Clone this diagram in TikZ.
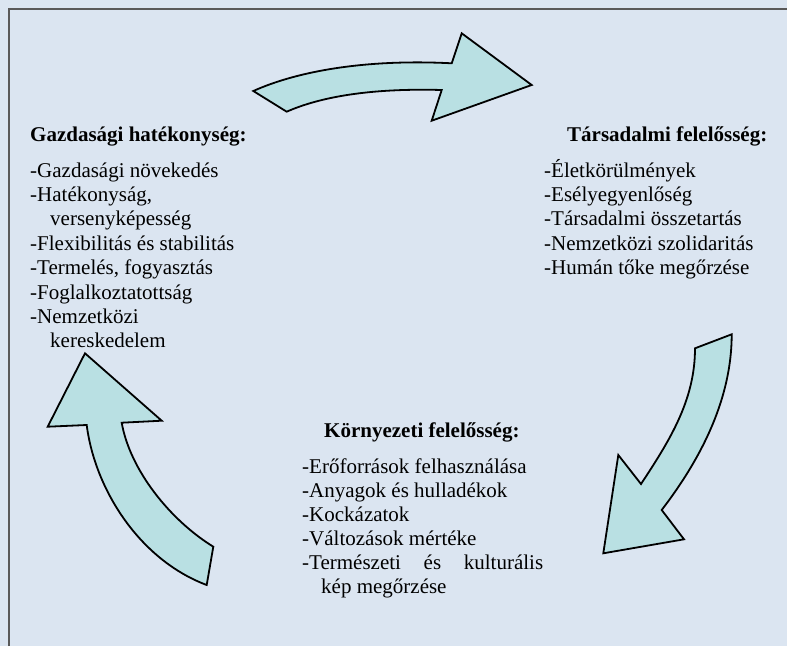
\documentclass[tikz,border=0pt]{standalone}
\usepackage{fontspec}
\setmainfont{Liberation Serif}
\definecolor{bgblue}{RGB}{219,229,241}
\definecolor{arrowfill}{RGB}{185,224,227}
\definecolor{framegray}{RGB}{89,89,89}

\begin{document}
\begin{tikzpicture}[x=1pt, y=-1pt,
  title/.style={anchor=base west, inner sep=0, font=\fontsize{21}{24}\selectfont\bfseries},
  item/.style={anchor=base west, inner sep=0, font=\fontsize{21}{24}\selectfont},
  bigarrow/.style={fill=arrowfill, draw=black, line width=1.8pt, line join=miter}]
\fill [bgblue] (0,0) rectangle (787,646);
\useasboundingbox (0,0) rectangle (787,646);
\draw [framegray, line width=2pt] (9,646) -- (9,9) -- (787,9);

% arrows
\draw [bigarrow] (253.3,91) -- (286.7,111.7) .. controls (320,97) and (370,88) .. (441.7,90)
  -- (431.7,120.7) -- (531.7,85) -- (461.7,33.3) -- (451.7,63.3)
  .. controls (370,59) and (300,70) .. (253.3,91) -- cycle;
\draw [bigarrow] (695,348.3) -- (731.7,334.3) .. controls (731.7,400) and (700,460) .. (661.7,510)
  -- (684,539.3) -- (603.3,553.3) -- (618.3,455) -- (641,484)
  .. controls (670,440) and (695,400) .. (695,348.3) -- cycle;
\draw [bigarrow] (213.3,546.7) -- (206.7,585) .. controls (140,560) and (95,490) .. (86.7,425)
  -- (47.7,426.7) -- (85,353.3) -- (161.7,420.7) -- (121.7,422.7)
  .. controls (130,470) and (170,520) .. (213.3,546.7) -- cycle;

% gazdasagi
\node[title] (gt) at (30,141) {Gazdasági hatékonység:};
\foreach \x/\t [count=\i] in {30/-Gazdasági növekedés, 30/{-Hatékonyság,}, 50/versenyképesség,
    30/-Flexibilitás és stabilitás, 30/{-Termelés, fogyasztás}, 30/-Foglalkoztatottság,
    30/-Nemzetközi, 50/kereskedelem} {
  \node[item] (g\i) at (\x,{177+(\i-1)*24.4}) {\t};
}

% tarsadalmi
\node[title] (tt) at (567,141) {Társadalmi felelősség:};
\foreach \t [count=\i] in {-Életkörülmények, -Esélyegyenlőség, -Társadalmi összetartás,
    -Nemzetközi szolidaritás, -Humán tőke megőrzése} {
  \node[item] (t\i) at (544,{177+(\i-1)*24.4}) {\t};
}

% kornyezeti
\node[title] (kt) at (324,437) {Környezeti felelősség:};
\foreach \t [count=\i] in {-Erőforrások felhasználása, -Anyagok és hulladékok, -Kockázatok,
    -Változások mértéke, \hbox to 241pt{-Természeti\hfill és\hfill kulturális}} {
  \node[item] (k\i) at (302,{473+(\i-1)*24}) {\t};
}
\node[item] (k6) at (321,593) {kép megőrzése};
\end{tikzpicture}
\end{document}
